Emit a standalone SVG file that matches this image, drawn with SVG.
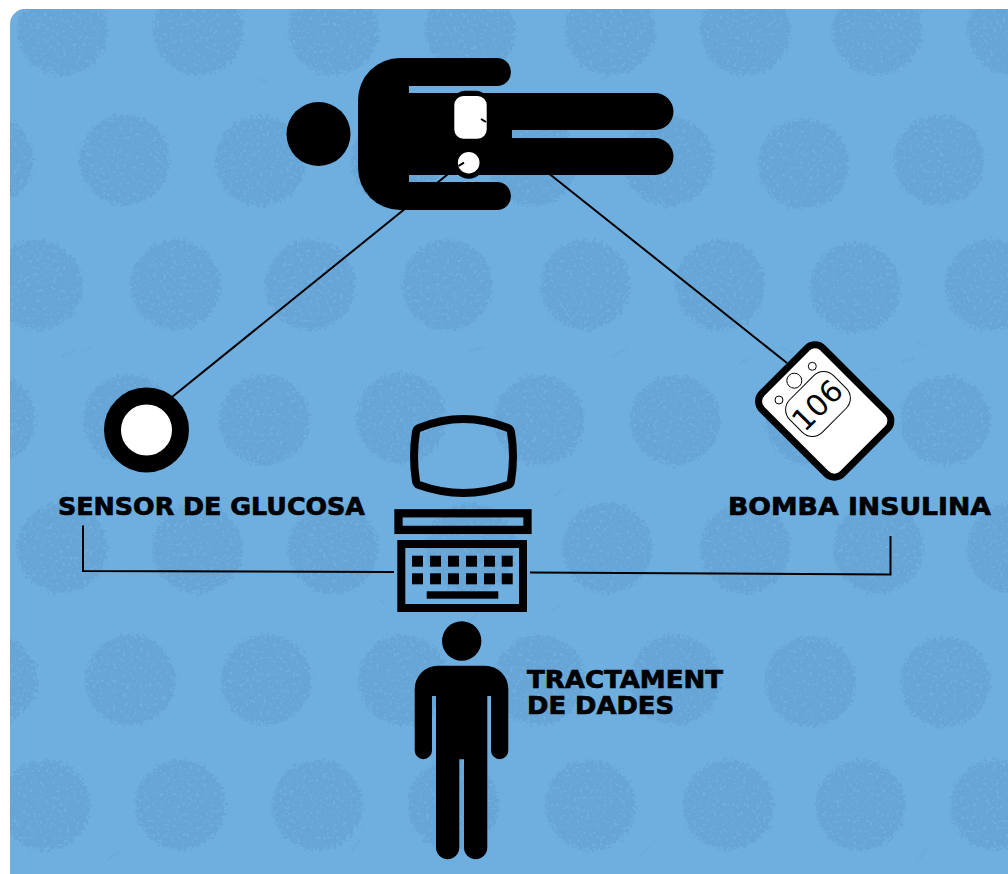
<svg xmlns="http://www.w3.org/2000/svg" width="1008" height="874" viewBox="0 0 1008 874">
<style>
.spot{fill:#66a5d6}
.lbl{font-family:"DejaVu Sans",Verdana,sans-serif;font-weight:700;font-size:25px;fill:#000;stroke:#000;stroke-width:0.700}
.wire{fill:none;stroke:#000;stroke-width:2}
.blk{fill:#000}
.wht{fill:#fff}
.ol{fill:none;stroke:#000}
</style>
<defs>
<filter id="grain" x="-5%" y="-5%" width="110%" height="110%" color-interpolation-filters="sRGB">
<feTurbulence type="fractalNoise" baseFrequency="0.3" numOctaves="3" seed="7" result="n"/>
<feDisplacementMap in="SourceGraphic" in2="n" scale="14" xChannelSelector="R" yChannelSelector="G" result="d"/>
<feColorMatrix in="n" type="matrix" values="0 0 0 0 0 0 0 0 0 0 0 0 0 0 0 -12 0 0 0 8.300" result="m"/>
<feComposite in="d" in2="m" operator="in" result="h"/>
<feGaussianBlur in="h" stdDeviation="0.7"/>
</filter>
<clipPath id="panel"><rect x="10" y="9" width="1020" height="890" rx="15"/></clipPath>
</defs>
<rect width="1008" height="874" fill="#fff"/>
<g clip-path="url(#panel)">
<rect x="10" y="9" width="1020" height="890" fill="#6fafe0"/>
<g filter="url(#grain)" class="spot">
<circle cx="62" cy="30" r="45"/><circle cx="198" cy="30" r="45"/><circle cx="333" cy="30" r="45"/><circle cx="470" cy="30" r="45"/><circle cx="610" cy="30" r="45"/><circle cx="745" cy="30" r="45"/><circle cx="877" cy="30" r="45"/><circle cx="1012" cy="30" r="45"/>
<circle cx="-12" cy="160" r="45"/><circle cx="124" cy="160" r="45"/><circle cx="260" cy="161" r="45"/><circle cx="396" cy="161" r="45"/><circle cx="532" cy="161" r="45"/><circle cx="668" cy="161" r="45"/><circle cx="803" cy="164" r="45"/><circle cx="939" cy="160" r="45"/>
<circle cx="37" cy="285" r="45"/><circle cx="175" cy="285" r="45"/><circle cx="310" cy="285" r="45"/><circle cx="447" cy="285" r="45"/><circle cx="585" cy="285" r="45"/><circle cx="720" cy="285" r="45"/><circle cx="855" cy="288" r="45"/><circle cx="990" cy="285" r="45"/>
<circle cx="-10" cy="419" r="45"/><circle cx="128" cy="420" r="45"/><circle cx="264" cy="420" r="45"/><circle cx="401" cy="418" r="45"/><circle cx="539" cy="420" r="45"/><circle cx="675" cy="420" r="45"/><circle cx="810" cy="420" r="45"/><circle cx="945" cy="420" r="45"/>
<circle cx="62" cy="548" r="45"/><circle cx="197" cy="548" r="45"/><circle cx="333" cy="549" r="45"/><circle cx="470" cy="548" r="45"/><circle cx="607" cy="548" r="45"/><circle cx="745" cy="548" r="45"/><circle cx="878" cy="548" r="45"/><circle cx="1012" cy="548" r="45"/>
<circle cx="-8" cy="680" r="45"/><circle cx="130" cy="680" r="45"/><circle cx="266" cy="680" r="45"/><circle cx="403" cy="680" r="45"/><circle cx="539" cy="680" r="45"/><circle cx="675" cy="680" r="45"/><circle cx="810" cy="682" r="45"/><circle cx="945" cy="682" r="45"/>
<circle cx="45" cy="805" r="45"/><circle cx="180" cy="805" r="45"/><circle cx="317" cy="805" r="45"/><circle cx="453" cy="805" r="45"/><circle cx="590" cy="805" r="45"/><circle cx="728" cy="805" r="45"/><circle cx="860" cy="805" r="45"/><circle cx="995" cy="805" r="45"/>
</g>
<g fill="none" stroke="#66a5d6" stroke-width="2.500" stroke-dasharray="2 1.500" opacity="0.7">
<path d="M62 356l14-6M82 352l10-5M468 352l16-5M612 356l14-7M780 348l14 4M902 362l12-4M915 342l8 3M740 364l10-6M765 348l5 4M870 368l10 2M258 78l10 6M600 80l8-3M318 518l10 4M380 600l6 4M470 620l8-6M552 610l8-5M108 860l12-8M352 850l8-10M640 855l10-8M918 860l8-10M60 495l8-4M555 495l10-6"/>
</g>
</g>
<g id="connectors">
<path class="wire" d="M172 397L458 166"/>
<path class="wire" d="M480 119L552 176L787 363"/>
<path class="wire" d="M394 572L83 571V525.500"/>
<path class="wire" d="M530 572.500L890.500 574.500V536"/>
</g>
<g id="patient">
<circle class="blk" cx="318.500" cy="134" r="32"/>
<path class="blk" d="M400 58H497A14 14 0 0 1 497 86H409V93H655A18.500 18.500 0 0 1 655 130H512V138H655A18.500 18.500 0 0 1 655 175H409V182H497A14 14 0 0 1 497 210H400A42 42 0 0 1 358 168V100A42 42 0 0 1 400 58Z"/>
<rect class="blk" x="453" y="90.700" width="35" height="50" rx="12"/>
<circle class="blk" cx="468.700" cy="162.700" r="16"/>
<rect class="wht" x="454.300" y="96" width="32.400" height="42.700" rx="9"/>
<circle class="wht" cx="468.700" cy="162.700" r="10.800"/>
<path class="wire" d="M481 119L486 122M464 162.700L458.500 166"/>
</g>
<g id="sensor">
<circle cx="146.500" cy="430" r="34" fill="#fff" stroke="#000" stroke-width="17"/>
</g>
<g id="pump">
<g transform="translate(824.700 411) rotate(45)">
<rect x="-57" y="-43.300" width="114" height="86.600" rx="11.500" fill="#fff" stroke="#000" stroke-width="7"/>
</g>
<g transform="translate(818 404) rotate(45)">
<rect x="-23" y="-31" width="46" height="62" rx="14" fill="#fff" stroke="#000" stroke-width="1"/>
</g>
<circle cx="794.300" cy="380.700" r="7.500" fill="#fff" stroke="#000" stroke-width="1"/>
<circle cx="812.300" cy="366.300" r="4" fill="#fff" stroke="#000" stroke-width="1"/>
<circle cx="779" cy="400" r="4" fill="#fff" stroke="#000" stroke-width="1"/>
<text transform="translate(817 405) rotate(-45)" y="11" text-anchor="middle" font-family="'DejaVu Sans',sans-serif" font-size="30" fill="#000">106</text>
</g>
<g id="computer">
<path class="ol" stroke-width="8" stroke-linejoin="round" d="M419 428Q463 410 508 428Q510.500 429 511 432Q515 456 511 481Q510.500 484 508 485Q463 501 419 485Q416.500 484 416 481Q412 456 416 432Q416.500 429 419 428Z"/>
<rect class="ol" x="398.500" y="513.300" width="129" height="16.600" stroke-width="8.300"/>
<rect class="ol" x="401.300" y="544" width="121.700" height="64" stroke-width="8"/>
<g class="blk">
<rect x="412" y="555.700" width="11" height="11"/><rect x="430" y="555.700" width="11" height="11"/><rect x="448" y="555.700" width="11" height="11"/><rect x="466" y="555.700" width="11" height="11"/><rect x="484" y="555.700" width="11" height="11"/><rect x="501.700" y="555.700" width="11" height="11"/>
<rect x="412" y="573.300" width="11" height="11"/><rect x="430" y="573.300" width="11" height="11"/><rect x="448" y="573.300" width="11" height="11"/><rect x="466" y="573.300" width="11" height="11"/><rect x="484" y="573.300" width="11" height="11"/><rect x="501.700" y="573.300" width="11" height="11"/>
<rect x="426.700" y="591.300" width="71.600" height="7.400"/>
</g>
</g>
<g id="operator">
<circle class="blk" cx="461.700" cy="641" r="19.700"/>
<path class="blk" d="M438 665.700H485A23.300 23.300 0 0 1 508.300 689V750.500A8.650 8.650 0 0 1 491 750.500V696H487.300V847.500A11.650 11.650 0 0 1 464 847.500V759.300H459.300V847.500A11.650 11.650 0 0 1 436 847.500V696H432V750.500A8.650 8.650 0 0 1 414.700 750.500V689A23.300 23.300 0 0 1 438 665.700Z"/>
</g>
<g id="labels">
<text class="lbl" x="58" y="514.500" textLength="307" lengthAdjust="spacingAndGlyphs">SENSOR DE GLUCOSA</text>
<text class="lbl" x="728" y="514.500" textLength="263" lengthAdjust="spacingAndGlyphs">BOMBA INSULINA</text>
<text class="lbl"><tspan x="527" y="688" textLength="196" lengthAdjust="spacingAndGlyphs">TRACTAMENT</tspan><tspan x="527" y="714" textLength="147" lengthAdjust="spacingAndGlyphs">DE DADES</tspan></text>
</g>
</svg>
